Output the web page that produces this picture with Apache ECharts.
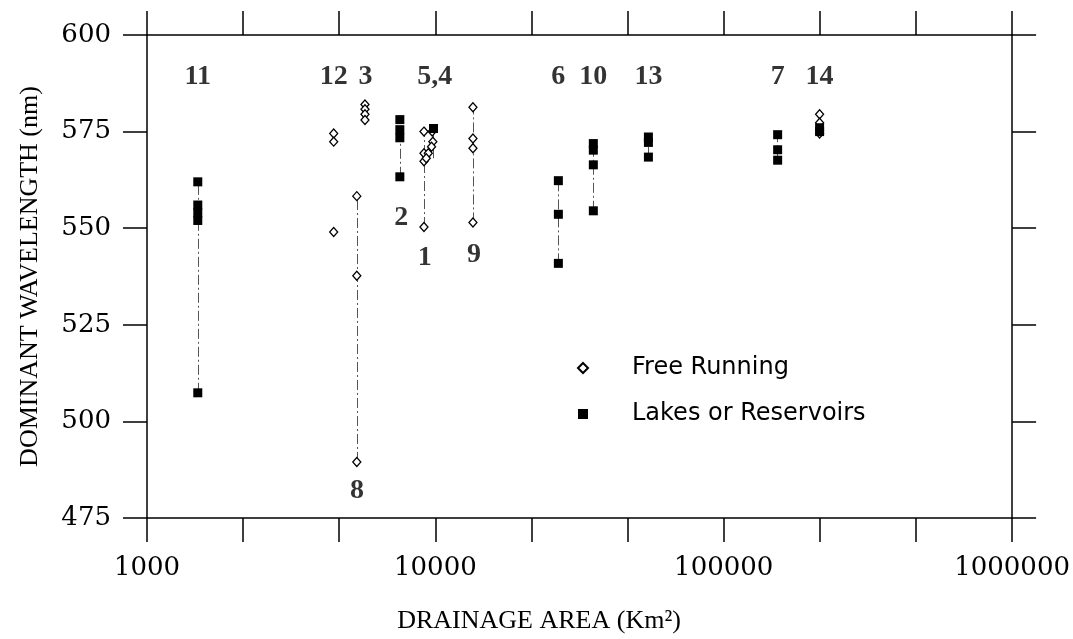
<!DOCTYPE html>
<html>
<head>
<meta charset="utf-8">
<title>Dominant wavelength vs drainage area</title>
<script src="https://cdn.jsdelivr.net/npm/echarts@6/dist/echarts.min.js"></script>
<style>
  html, body { margin: 0; padding: 0; background: #fff; }
  #main { width: 1073px; height: 639px; }
</style>
</head>
<body>
<div id="main"></div>
<script>
// [drainage area km², dominant wavelength nm, station]
const freeRunning = [
  [4440, 574.5, '12'], [4440, 572.4, '12'], [4440, 549, '12'],
  [5700, 582, '3'], [5700, 580.8, '3'], [5700, 579.5, '3'], [5700, 578, '3'],
  [5340, 558.3, '8'], [5340, 537.7, '8'], [5340, 489.5, '8'],
  [9130, 575, '1'], [9130, 569.4, '1'], [9130, 567.3, '1'], [9130, 550.3, '1'],
  [9800, 572.4, '5'], [9700, 571.1, '5'], [9450, 569.4, '5'], [9300, 568.1, '5'], [9750, 575, '5'],
  [13500, 581.3, '9'], [13500, 573.2, '9'], [13500, 570.7, '9'], [13500, 551.5, '9'],
  [215000, 579.5, '14'], [215000, 577.3, '14'], [215000, 574.5, '14']
];
const lakesReservoirs = [
  [1500, 562, '11'], [1500, 556, '11'], [1500, 554, '11'], [1500, 552, '11'], [1500, 507.4, '11'],
  [7530, 578.1, '2'], [7530, 575.5, '2'], [7530, 573.4, '2'], [7530, 563.3, '2'],
  [9850, 575.8, '4'],
  [26700, 562.3, '6'], [26700, 553.6, '6'], [26700, 540.9, '6'],
  [35300, 571.9, '10'], [35300, 570.2, '10'], [35300, 566.4, '10'], [35300, 554.5, '10'],
  [54800, 573.6, '13'], [54800, 572.2, '13'], [54800, 568.4, '13'],
  [153800, 574.2, '7'], [153800, 570.3, '7'], [153800, 567.6, '7'],
  [215000, 576, '14'], [215000, 575, '14']
];
// stations drawn with a connecting line through their range
const linkedStations = ['11', '8', '2', '1', '9', '6', '10', '13', '7', '5'];
const stationLabels = [
  [1500, 589.3, '11'], [4440, 589.3, '12'], [5720, 589.3, '3'], [9950, 589.3, '5,4'],
  [26700, 589.3, '6'], [35300, 589.3, '10'], [54800, 589.3, '13'], [153800, 589.3, '7'],
  [215000, 589.3, '14'], [7610, 552.6, '2'], [9190, 542.3, '1'], [13600, 543.2, '9'],
  [5350, 482.1, '8']
];
const yTicks = { min: 475, max: 600, step: 25 };

// vertical range lines per station
const allPoints = freeRunning.concat(lakesReservoirs);
const rangeLines = linkedStations.map(function (id) {
  const pts = allPoints.filter(function (p) { return p[2] === id; });
  const wl = pts.map(function (p) { return p[1]; });
  const x = pts[0][0];
  return { coords: [[x, Math.min.apply(null, wl)], [x, Math.max.apply(null, wl)]] };
});

const labelFont = 'DejaVu Serif';
const titleFont = 'Liberation Serif';

function decadeLabel(v) {
  const e = Math.log10(v);
  return Math.abs(e - Math.round(e)) < 1e-6 ? String(Math.round(v)) : '';
}

const tickStyle = { show: true, inside: false, length: 24, lineStyle: { color: '#000', width: 1.5 } };
const lineStyle = { show: true, lineStyle: { color: '#000', width: 1.5 } };

function xAxisOpt(pos, showLabel) {
  return {
    type: 'log', logBase: 10, min: 1000, max: 1000000, interval: 1 / 3,
    position: pos,
    axisLine: lineStyle, axisTick: tickStyle, splitLine: { show: false },
    axisLabel: {
      show: showLabel, margin: 37, formatter: decadeLabel,
      fontFamily: labelFont, fontSize: 26, color: '#000'
    }
  };
}
function yAxisOpt(pos, showLabel) {
  return {
    type: 'value', min: yTicks.min, max: yTicks.max, interval: yTicks.step,
    position: pos,
    axisLine: lineStyle, axisTick: tickStyle, splitLine: { show: false },
    axisLabel: {
      show: showLabel, margin: 36,
      fontFamily: labelFont, fontSize: 26, color: '#000'
    }
  };
}

const chart = echarts.init(document.getElementById('main'));
const xBottom = xAxisOpt('bottom', true);
xBottom.name = 'DRAINAGE AREA (Km²)';
xBottom.nameLocation = 'middle';
xBottom.nameGap = 90;
xBottom.nameTextStyle = { fontFamily: titleFont, fontSize: 26, color: '#000', padding: [0, 81, 0, 0] };
const yLeft = yAxisOpt('left', true);
yLeft.name = 'DOMINANT WAVELENGTH (nm)';
yLeft.nameLocation = 'middle';
yLeft.nameGap = 104;
yLeft.nameTextStyle = { fontFamily: titleFont, fontSize: 26, color: '#000' };

chart.setOption({
  backgroundColor: '#fff',
  animation: false,
  grid: { left: 147, right: 54, top: 35, bottom: 114 },
  xAxis: [xBottom, xAxisOpt('top', false)],
  yAxis: [yLeft, yAxisOpt('right', false)],
  legend: {
    data: ['Free Running', 'Lakes or Reservoirs'],
    orient: 'vertical', left: 572, top: 351,
    itemWidth: 10, itemHeight: 10, itemGap: 22,
    textStyle: { fontFamily: 'DejaVu Sans', fontSize: 24, color: '#000', padding: [0, 0, 0, 39] }
  },
  series: [
    {
      type: 'lines', coordinateSystem: 'cartesian2d', silent: true,
      lineStyle: { color: '#555', width: 1, type: [10, 3, 2, 3], opacity: 1 },
      data: rangeLines
    },
    {
      name: 'Free Running', type: 'scatter', symbol: 'diamond', symbolSize: [8, 9],
      itemStyle: { color: '#fff', borderColor: '#000', borderWidth: 1.3, opacity: 1 },
      data: freeRunning
    },
    {
      name: 'Lakes or Reservoirs', type: 'scatter', symbol: 'rect', symbolSize: 9,
      itemStyle: { color: '#000', opacity: 1 },
      data: lakesReservoirs
    },
    {
      type: 'scatter', symbolSize: 0, silent: true,
      label: {
        show: true, position: 'inside', color: '#000',
        fontFamily: titleFont, fontWeight: 'bold', fontSize: 28,
        formatter: function (p) { return p.data[2]; }
      },
      data: stationLabels
    }
  ]
});
</script>
</body>
</html>
